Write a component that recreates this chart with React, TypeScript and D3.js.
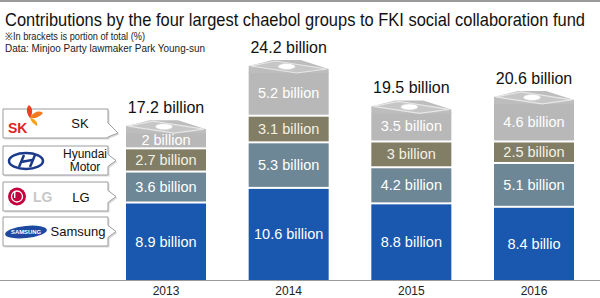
import React from "react";
import * as d3 from "d3";

const years = ["2013", "2014", "2015", "2016"];
const companies = ["Samsung", "LG", "Hyundai Motor", "SK"];
const samsung = [8.9, 10.6, 8.8, 8.4];
const lg = [3.6, 5.3, 4.2, 5.1];
const hyundai = [2.7, 3.1, 3.0, 2.5];
const sk = [2, 5.2, 3.5, 4.6];
const totals = [17.2, 24.2, 19.5, 20.6];
const segmentLabels = [
  ["8.9 billion", "10.6 billion", "8.8 billion", "8.4 billio"],
  ["3.6 billion", "5.3 billion", "4.2 billion", "5.1 billion"],
  ["2.7 billion", "3.1 billion", "3 billion", "2.5 billion"],
  ["2 billion", "5.2 billion", "3.5 billion", "4.6 billion"],
];
const totalLabels = ["17.2 billion", "24.2 billion", "19.5 billion", "20.6 billion"];
const colors = ["#1a57ae", "#6d8797", "#827e65", "#b8b8b8"];

const W = 600;
const H = 298;
const FONT = "'Liberation Sans', Arial, sans-serif";

export default function App() {
  const series = [samsung, lg, hyundai, sk];
  const x = d3.scalePoint<string>().domain(years).range([166, 534]);
  const y = d3.scaleLinear().domain([0, 24.2]).range([280, 72]);
  const bw = 80;

  const table = years.map((yr, i) => {
    const row: any = { year: yr };
    companies.forEach((c, k) => (row[c] = series[k][i]));
    return row;
  });
  const stacked = d3.stack<any>().keys(companies)(table);

  const legendRows = [
    { name: "SK", y0: 109, y1: 138 },
    { name: "Hyundai Motor", y0: 146, y1: 175 },
    { name: "LG", y0: 182, y1: 211 },
    { name: "Samsung", y0: 217, y1: 246 },
  ];

  const boxPath = (r: { name: string; y0: number; y1: number }) => {
    const bx0 = 3, bx1 = 108;
    if (r.name === "SK") {
      return `M${bx0},${r.y0} H${bx1} V${r.y0 + 14} L${bx1 + 10},${r.y0 + 24} L${bx1},${r.y1 - 1} V${r.y1} H${bx0} Z`;
    }
    const m = (r.y0 + r.y1) / 2;
    return `M${bx0},${r.y0} H${bx1} V${m - 6} L${bx1 + 8},${m} L${bx1},${m + 6} V${r.y1} H${bx0} Z`;
  };

  return (
    <svg width={W} height={H} style={{ position: "absolute", left: 0, top: 0, background: "#fff" }} fontFamily={FONT}>
      <rect x={0} y={0} width={W} height={2} fill="#9a9a9a" />
      <g transform="translate(5,26) scale(1,1.2)">
        <text x={0} y={0} fontSize={15} fill="#111" textLength={580} lengthAdjust="spacingAndGlyphs">
          Contributions by the four largest chaebol groups to FKI social collaboration fund
        </text>
      </g>
      <text x={5} y={40} fontSize={10.5} fill="#222" textLength={140} lengthAdjust="spacingAndGlyphs">
        ※In brackets is portion of total (%)
      </text>
      <text x={5} y={51.5} fontSize={10.5} fill="#222" textLength={200} lengthAdjust="spacingAndGlyphs">
        Data: Minjoo Party lawmaker Park Young-sun
      </text>

      {/* bars */}
      {stacked.map((layer, k) =>
        layer.map((d, i) => {
          const cx = x(years[i])!;
          const top = y(d[1]);
          const bottom = k === 0 ? y(d[0]) : y(d[0]) - 2;
          return (
            <g key={`${k}-${i}`}>
              <rect x={cx - bw / 2} y={top} width={bw} height={bottom - top} fill={colors[k]} />
              <text
                x={cx}
                y={(top + bottom) / 2 + 5}
                textAnchor="middle"
                fontSize={14.5}
                fill={k === 2 ? "#f4f1e4" : "#ffffff"}
              >
                {segmentLabels[k][i]}
              </text>
            </g>
          );
        })
      )}

      {/* lids */}
      {years.map((yr, i) => {
        const cx = x(yr)!;
        const x0 = cx - bw / 2;
        const x1 = cx + bw / 2;
        const top = y(totals[i]);
        const outer = `M${x0},${top + 1} L${x0},${top - 6} L${x0 + 24},${top - 12} L${x0 + 52},${top - 12} L${x1},${top - 3} L${x1},${top + 1} Z`;
        const face = `M${x0 + 2},${top - 6} L${x0 + 27},${top - 11} L${x1 - 2},${top - 3} L${x0 + 48},${top + 1} Z`;
        return (
          <g key={`lid-${yr}`}>
            <path d={outer} fill="#bdbdbd" />
            <path d={face} fill="#c6c6c6" stroke="#e6e6e6" strokeWidth={1.2} />
            <ellipse cx={x0 + 38} cy={top - 5.5} rx={8.5} ry={3} fill="#ffffff" stroke="#d8d8d8" strokeWidth={0.6} />
            <text x={cx} y={top - 19} textAnchor="middle" fontSize={16} fill="#111">
              {totalLabels[i]}
            </text>
          </g>
        );
      })}

      {/* axis */}
      <line x1={0} x2={W} y1={280.5} y2={280.5} stroke="#9a9a9a" strokeWidth={1} />
      {years.map((yr) => (
        <text key={`yr-${yr}`} x={x(yr)!} y={295} textAnchor="middle" fontSize={12} fill="#222">
          {yr}
        </text>
      ))}

      {/* legend */}
      {legendRows.map((r) => (
        <g key={r.name}>
          <path d={boxPath(r)} transform="translate(1.5,1.5)" fill="#dcdcdc" />
          <path d={boxPath(r)} fill="#ffffff" stroke="#9c9c9c" strokeWidth={1} />
        </g>
      ))}

      {/* SK logo */}
      <g>
        <path d="M30,118 C33,112 39,110 43,113 C40,117 35,119 30,118 Z" fill="#f47a20" />
        <path d="M30,118 C26,113 26,108 29,105 C33,108 33,113 30,118 Z" fill="#ef3e23" />
        <path d="M30,118 C35,119 38,122 37,126 C33,124 31,121 30,118 Z" fill="#f8a01c" />
        <text x={8} y={133} fontSize={14} fontWeight="bold" fill="#e2231a">SK</text>
        <text x={80} y={128} textAnchor="middle" fontSize={13} fill="#111">SK</text>
      </g>

      {/* Hyundai logo */}
      <g>
        <ellipse cx={26} cy={161} rx={17} ry={8} fill="none" stroke="#1b3a8c" strokeWidth={2.5} />
        <path d="M19,167 L24,155 M30,167 L35,155 M21,162 L32,160" stroke="#1b3a8c" strokeWidth={2.5} fill="none" />
        <text x={85} y={158} textAnchor="middle" fontSize={12} fill="#111">Hyundai</text>
        <text x={85} y={171} textAnchor="middle" fontSize={12} fill="#111">Motor</text>
      </g>

      {/* LG logo */}
      <g>
        <circle cx={17} cy={196.5} r={9} fill="#c5003e" />
        <circle cx={17} cy={196.5} r={5.5} fill="none" stroke="#fff" strokeWidth={1.3} />
        <rect x={14} y={192} width={1.4} height={6} fill="#fff" />
        <circle cx={14.5} cy={192} r={0.9} fill="#fff" />
        <text x={33} y={202} fontSize={14} fontWeight="bold" fill="#c8c8c8">LG</text>
        <text x={81} y={202} textAnchor="middle" fontSize={13} fill="#111">LG</text>
      </g>

      {/* Samsung logo */}
      <g>
        <ellipse cx={26} cy={232} rx={21} ry={6} fill="#1d4aa0" transform="rotate(-6 26 232)" />
        <text x={26} y={234} textAnchor="middle" fontSize={5.5} fontWeight="bold" fill="#fff" textLength={30} lengthAdjust="spacingAndGlyphs">
          SAMSUNG
        </text>
        <text x={78} y={236} textAnchor="middle" fontSize={13} fill="#111">Samsung</text>
      </g>
    </svg>
  );
}
